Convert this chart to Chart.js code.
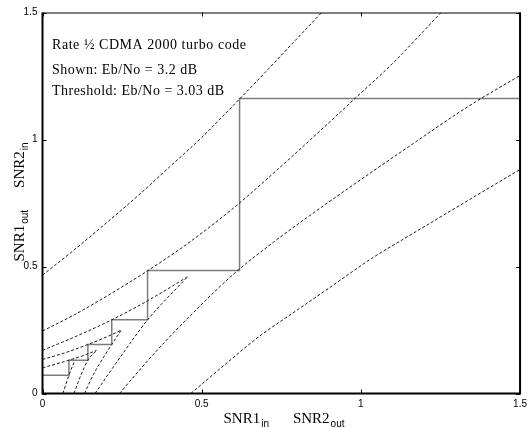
<!DOCTYPE html>
<html><head><meta charset="utf-8">
<script src="https://cdn.jsdelivr.net/npm/chart.js@4.4.1/dist/chart.umd.min.js"></script>
<style>html,body{margin:0;padding:0;background:#fff}canvas{display:block}</style>
</head><body>
<canvas id="c" width="532" height="428"></canvas>
<script>
// ---- data ----
const xTicks = [0, 0.5, 1, 1.5];
const yTicks = [0, 0.5, 1, 1.5];
const xTickLabels = ['0', '0.5', '1', '1.5'];
const yTickLabels = ['0', '0.5', '1', '1.5'];
const xTitle = [['SNR1', 'in'], ['SNR2', 'out']];
const yTitle = [['SNR1', 'out'], ['SNR2', 'in']];
const notes = ['Rate \u00BD CDMA 2000 turbo code', 'Shown: Eb/No = 3.2 dB', 'Threshold: Eb/No = 3.03 dB'];

// upper family (SNR1 curves, start on the y axis)
const curveU1 = [[0,0.466],[0.1,0.566],[0.2,0.671],[0.3,0.779],[0.4,0.893],[0.5,1.008],[0.6,1.135],[0.7,1.265],[0.8,1.398],[0.877,1.5]];
const curveU2 = [[0,0.246],[0.1,0.31],[0.2,0.382],[0.33,0.483],[0.45,0.585],[0.6,0.73],[0.71,0.85],[0.877,1.04],[0.981,1.161],[1.1,1.3],[1.252,1.5]];
const curveU3 = [[0,0.17],[0.1,0.222],[0.2175,0.29],[0.33,0.365],[0.455,0.459]];
const curveU4 = [[0,0.134],[0.07,0.16],[0.1425,0.193],[0.2,0.222],[0.247,0.249]];
const curveU5 = [[0,0.101],[0.083,0.131],[0.13,0.15],[0.17,0.17]];
// lower family (SNR2 curves, start on the x axis)
const curveL1 = [[0.064,0],[0.083,0.072],[0.1,0.125]];
const curveL2 = [[0.099,0],[0.12,0.07],[0.1425,0.131],[0.17,0.17]];
const curveL3 = [[0.132,0],[0.16,0.075],[0.193,0.145],[0.2175,0.193],[0.247,0.249]];
const curveL4 = [[0.165,0],[0.22,0.1],[0.285,0.215],[0.33,0.29],[0.455,0.459]];
const curveL5 = [[0.242,0],[0.31,0.1],[0.382,0.2],[0.483,0.33],[0.6,0.47],[0.73,0.6],[0.85,0.71],[1.04,0.877],[1.161,0.981],[1.3,1.1],[1.377,1.161],[1.5,1.252]];
const curveL6 = [[0.466,0],[0.56,0.1],[0.679,0.223],[0.79,0.32],[0.9,0.415],[1.033,0.531],[1.15,0.62],[1.27,0.71],[1.39,0.8],[1.5,0.882]];
// decoding trajectory
const trajectory = [[0,0.072],[0.083,0.072],[0.083,0.131],[0.1425,0.131],[0.1425,0.193],[0.2175,0.193],[0.2175,0.29],[0.33,0.29],[0.33,0.484],[0.619,0.484],[0.619,1.161],[1.5,1.161]];

const toPts = a => a.map(([x, y]) => ({x, y}));
const dashed = (label, arr) => ({
  label, data: toPts(arr), showLine: true, borderColor: '#1e1e1e', borderWidth: 1,
  borderDash: [3, 2], pointRadius: 0, fill: false, cubicInterpolationMode: 'monotone'
});
const datasets = [
  dashed('U1', curveU1), dashed('U2', curveU2), dashed('U3', curveU3), dashed('U4', curveU4), dashed('U5', curveU5),
  dashed('L1', curveL1), dashed('L2', curveL2), dashed('L3', curveL3), dashed('L4', curveL4), dashed('L5', curveL5), dashed('L6', curveL6),
  { label: 'trajectory', data: toPts(trajectory), showLine: true, borderColor: '#7d7d7d', borderWidth: 1.5,
    pointRadius: 0, fill: false, tension: 0 }
];

function spacedText(ctx, s, x, y, width) {
  const w0 = ctx.measureText(s).width;
  const extra = s.length > 1 ? (width - w0) / (s.length - 1) : 0;
  let cx = x;
  for (const ch of s) { ctx.fillText(ch, cx, y); cx += ctx.measureText(ch).width + extra; }
}
function drawTitle(ctx, parts, gap) {
  const main = '15px "Liberation Serif"', sub = '10px "Liberation Sans"';
  let total = 0; const ws = [];
  parts.forEach(([m, s], i) => {
    ctx.font = main; const a = ctx.measureText(m).width;
    ctx.font = sub; const b = ctx.measureText(s).width;
    ws.push([a, b]); total += a + b + 1 + (i ? gap : 0);
  });
  let x = -total / 2;
  parts.forEach(([m, s], i) => {
    if (i) x += gap;
    ctx.font = main; ctx.fillText(m, x, 0); x += ws[i][0] + 1;
    ctx.font = sub; ctx.fillText(s, x, 4); x += ws[i][1];
  });
}

const framePlugin = {
  id: 'frame',
  afterDraw(chart) {
    const {ctx, chartArea: a, scales: {x, y}} = chart;
    ctx.save();
    ctx.strokeStyle = '#000';
    ctx.lineWidth = 1;
    ctx.beginPath(); ctx.moveTo(a.left, a.top + 0.5); ctx.lineTo(a.right, a.top + 0.5); ctx.stroke();
    ctx.lineWidth = 2;
    ctx.beginPath();
    ctx.moveTo(a.left, a.top); ctx.lineTo(a.left, a.bottom); ctx.lineTo(a.right, a.bottom); ctx.lineTo(a.right, a.top);
    ctx.stroke();
    ctx.lineWidth = 1;
    const tl = 4;
    ctx.beginPath();
    xTicks.forEach(v => { const px = Math.round(x.getPixelForValue(v)) + 0.5;
      ctx.moveTo(px, a.bottom); ctx.lineTo(px, a.bottom - tl); ctx.moveTo(px, a.top); ctx.lineTo(px, a.top + tl); });
    yTicks.forEach(v => { const py = Math.round(y.getPixelForValue(v)) + 0.5;
      ctx.moveTo(a.left, py); ctx.lineTo(a.left + tl, py); ctx.moveTo(a.right, py); ctx.lineTo(a.right - tl, py); });
    ctx.stroke();

    // annotations
    ctx.fillStyle = '#000';
    ctx.textBaseline = 'middle';
    ctx.font = '14px "Liberation Serif"';
    const widths = [194, 145, 172];
    const ys = [45, 70, 91];
    notes.forEach((s, i) => spacedText(ctx, s, 52, ys[i], widths[i]));

    // axis titles
    ctx.textBaseline = 'alphabetic';
    ctx.save(); ctx.translate(284, 423); drawTitle(ctx, xTitle, 24); ctx.restore();
    ctx.save(); ctx.translate(24, 202); ctx.rotate(-Math.PI / 2); drawTitle(ctx, yTitle, 22); ctx.restore();
    ctx.restore();
  }
};

new Chart(document.getElementById('c'), {
  type: 'scatter',
  data: { datasets },
  options: {
    responsive: false, animation: false, devicePixelRatio: 1,
    layout: { padding: { top: 12.5, right: 9.5, left: 0, bottom: 0 } },
    plugins: { legend: { display: false }, tooltip: { enabled: false } },
    scales: {
      x: {
        type: 'linear', min: 0, max: 1.5,
        afterBuildTicks: s => { s.ticks = xTicks.map(v => ({value: v})); },
        afterFit: s => { s.height = 34.5; },
        grid: { display: false, drawTicks: false }, border: { display: false },
        ticks: { callback: (v, i) => xTickLabels[i], color: '#000', padding: 5, maxRotation: 0,
                 font: { family: 'Liberation Sans', size: 10 } }
      },
      y: {
        type: 'linear', min: 0, max: 1.5,
        afterBuildTicks: s => { s.ticks = yTicks.map(v => ({value: v})); },
        afterFit: s => { s.width = 42.5; },
        grid: { display: false, drawTicks: false }, border: { display: false },
        ticks: { callback: (v, i) => yTickLabels[i], color: '#000', padding: 5,
                 font: { family: 'Liberation Sans', size: 10 } }
      }
    }
  },
  plugins: [framePlugin]
});
</script>
</body></html>
